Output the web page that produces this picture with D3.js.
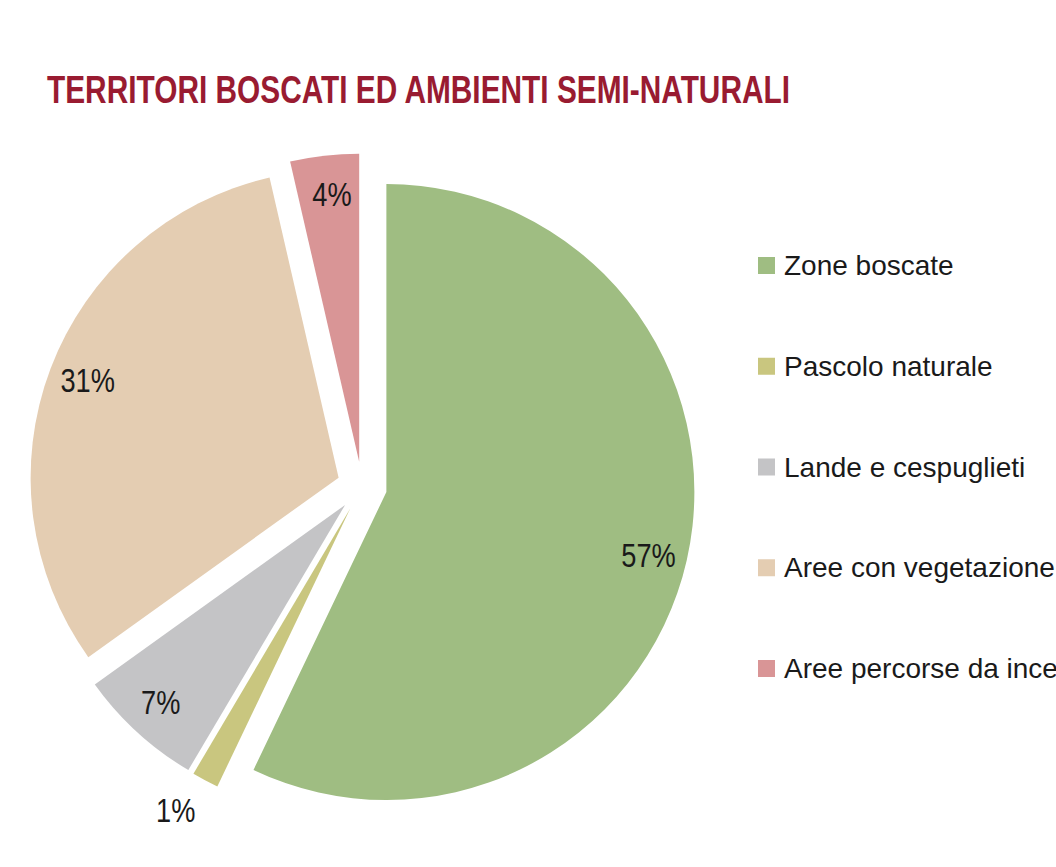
<!DOCTYPE html>
<html><head><meta charset="utf-8">
<script src="https://cdn.jsdelivr.net/npm/d3@7"></script>
<style>body{margin:0;background:#fff}svg{display:block}</style>
</head><body>
<svg id="c" width="1056" height="867"></svg>
<script>
const title = "TERRITORI BOSCATI ED AMBIENTI SEMI-NATURALI";
const categories = ["Zone boscate","Pascolo naturale","Lande e cespuglieti","Aree con vegetazione rada o assente","Aree percorse da incendi"];
// estimated shares (labels show them rounded: 57%, 1%, 7%, 31%, 4%)
const values = [57.1, 1.4, 6.6, 31.3, 3.6];
const colors = ["#9fbd82","#c9c67f","#c4c4c6","#e4cdb2","#d99596"];

const svg = d3.select("#c");
const W = 1056, H = 867;
svg.append("rect").attr("width",W).attr("height",H).attr("fill","#fff");

svg.append("text").attr("x",47).attr("y",103)
  .attr("font-family","'Liberation Sans Narrow','Liberation Sans',Arial,sans-serif")
  .attr("font-weight","bold").attr("font-size",39).attr("fill","#991b31")
  .attr("textLength",743).attr("lengthAdjust","spacingAndGlyphs")
  .text(title);

const cx = 362, cy = 486.5, R = 308, explode = 25;
const fmt = d3.format(".0f");
const pie = d3.pie().sort(null).value(d=>d)(values);
const arc = d3.arc().innerRadius(0).outerRadius(R);
const g = svg.append("g").attr("transform",`translate(${cx},${cy})`);
const slices = g.selectAll("g.s").data(pie).enter().append("g")
  .attr("transform", d=>{const a=(d.startAngle+d.endAngle)/2;return `translate(${explode*Math.sin(a)},${-explode*Math.cos(a)})`;});
slices.append("path").attr("d",arc).attr("fill",(d,i)=>colors[i]);
slices.append("text")
  .attr("transform", d=>{
    const small = d.value < 2;
    const a=(d.startAngle+d.endAngle)/2 + (small ? 0.035 : 0.012);
    const rr = (small ? 1.13 : 0.875)*R;
    return `translate(${rr*Math.sin(a)},${-rr*Math.cos(a)}) scale(0.8,1)`;})
  .attr("text-anchor","middle").attr("dy","0.36em")
  .attr("font-family","'Liberation Sans',Arial,sans-serif").attr("font-size",34).attr("fill","#1a1a1a")
  .text(d=>fmt(d.value)+"%");

const leg = svg.append("g");
const ly = d3.scalePoint().domain(categories).range([265,668]);
categories.forEach((c,i)=>{
  leg.append("rect").attr("x",758).attr("y",ly(c)-8).attr("width",17).attr("height",17).attr("fill",colors[i]);
  leg.append("text").attr("x",784).attr("y",ly(c)).attr("dy","0.36em")
    .attr("font-family","'Liberation Sans',Arial,sans-serif").attr("font-size",28).attr("fill","#1a1a1a")
    .text(c);
});
</script>
</body></html>
